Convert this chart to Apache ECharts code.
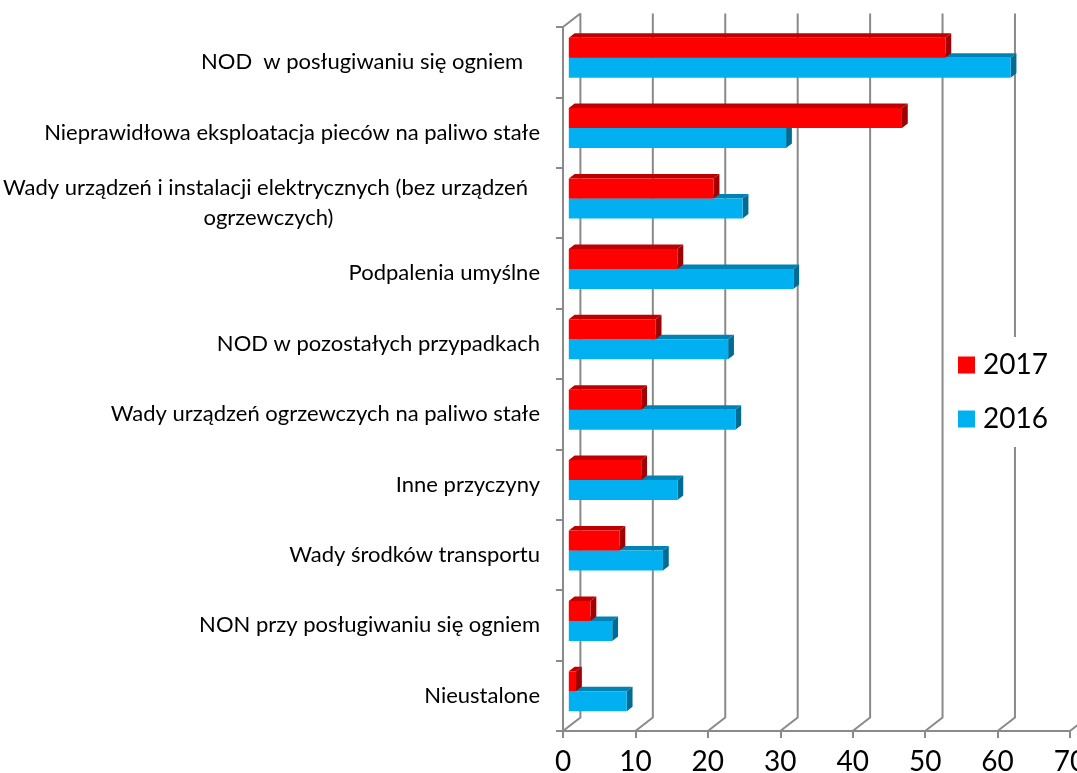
<!DOCTYPE html>
<html>
<head>
<meta charset="UTF-8">
<title>Przyczyny pożarów 2016 - 2017</title>
<script src="https://cdn.jsdelivr.net/npm/echarts@6/dist/echarts.min.js"></script>
<style>
    html, body { margin: 0; padding: 0; background: #fff; }
    #main { width: 1077px; height: 773px; }
</style>
</head>
<body>
<div id="main"></div>
<script>
    // kategorie (od góry)
    var categories = [
        'NOD  w posługiwaniu się ogniem   ',
        'Nieprawidłowa eksploatacja pieców na paliwo stałe',
        'Wady urządzeń i instalacji elektrycznych (bez urządzeń\nogrzewczych)',
        'Podpalenia umyślne',
        'NOD w pozostałych przypadkach',
        'Wady urządzeń ogrzewczych na paliwo stałe',
        'Inne przyczyny',
        'Wady środków transportu',
        'NON przy posługiwaniu się ogniem',
        'Nieustalone'
    ];
    var values2017 = [52, 46, 20, 15, 12, 10, 10, 7, 3, 1];
    var values2016 = [61, 30, 24, 31, 22, 23, 15, 13, 6, 8];
    var xTicks = [0, 10, 20, 30, 40, 50, 60, 70];

    // głębokość "3D" w pikselach
    var DEPTH_X = 17.4, DEPTH_Y = -13.5;
    var BAR_RATIO = 20 / 70.4;
    var GRAY = '#8a8a8a';
    var FONT = 'Lato';

    function bar3d(side, front, top, right) {
        return function (params, api) {
            var val = api.value(0), cat = api.value(1);
            var a = api.coord([0, cat]), b = api.coord([val, cat]);
            var h = api.size([0, 1])[1] * BAR_RATIO;
            var y0 = side < 0 ? a[1] - h : a[1];
            var y1 = y0 + h;
            var fx = DEPTH_X / 3, fy = DEPTH_Y / 3;
            var bx = DEPTH_X * 2 / 3, by = DEPTH_Y * 2 / 3;
            var x0 = a[0], x1 = b[0];
            return {
                type: 'group',
                children: [
                    {type: 'polygon', shape: {points: [[x0 + fx, y0 + fy], [x1 + fx, y0 + fy], [x1 + bx, y0 + by], [x0 + bx, y0 + by]]}, style: {fill: top}},
                    {type: 'polygon', shape: {points: [[x1 + fx, y0 + fy], [x1 + bx, y0 + by], [x1 + bx, y1 + by], [x1 + fx, y1 + fy]]}, style: {fill: right}},
                    {type: 'rect', shape: {x: x0 + fx, y: y0 + fy, width: x1 - x0, height: h}, style: {fill: front}}
                ]
            };
        };
    }

    // linie siatki na tylnej ścianie + podłoga
    function frameItem(params, api) {
        var cs = params.coordSys;
        var v = api.value(0);
        var x = api.coord([v, 0])[0];
        var bottom = cs.y + cs.height, top = cs.y;
        var children = [{
            type: 'polyline',
            shape: {points: [[x, bottom], [x + DEPTH_X, bottom + DEPTH_Y], [x + DEPTH_X, top + DEPTH_Y]]},
            style: {stroke: GRAY, lineWidth: 2, fill: null}
        }];
        if (v === 0) {
            children.push({
                type: 'line',
                shape: {x1: x, y1: top, x2: x + DEPTH_X, y2: top + DEPTH_Y},
                style: {stroke: GRAY, lineWidth: 2}
            });
        }
        return {type: 'group', children: children};
    }

    var myChart = echarts.init(document.getElementById('main'));
    myChart.setOption({
        animation: false,
        grid: {left: 563, right: 7, top: 27, bottom: 42, containLabel: false, outerBoundsMode: 'none'},
        legend: {
            orient: 'vertical',
            left: 944,
            top: 337,
            padding: [13, 14, 13, 14],
            itemGap: 24,
            itemWidth: 17,
            itemHeight: 17,
            backgroundColor: '#fff',
            selectedMode: false,
            z: 10,
            textStyle: {fontFamily: FONT, fontSize: 28, color: '#000', lineHeight: 30, padding: [0, 0, 0, 3]},
            data: [
                {name: '2017', icon: 'rect', itemStyle: {color: '#FF0000'}},
                {name: '2016', icon: 'rect', itemStyle: {color: '#00B0F0'}}
            ]
        },
        xAxis: {
            type: 'value',
            min: 0,
            max: 70,
            interval: 10,
            axisLine: {show: true, lineStyle: {color: GRAY, width: 2}},
            axisTick: {show: true, length: 7, lineStyle: {color: GRAY, width: 2}},
            axisLabel: {fontFamily: FONT, fontSize: 28, color: '#000', margin: 17, hideOverlap: false},
            splitLine: {show: false}
        },
        yAxis: {
            type: 'category',
            inverse: true,
            data: categories,
            axisLine: {show: true, lineStyle: {color: GRAY, width: 2}},
            axisTick: {show: true, length: 7, lineStyle: {color: GRAY, width: 2}},
            splitLine: {show: false},
            axisLabel: {
                margin: 23,
                color: '#000',
                fontFamily: FONT,
                fontSize: 22,
                formatter: function (v) {
                    var lines = v.split('\n');
                    if (lines.length > 1) {
                        return '{l1|' + lines[0] + '}\n{l2|' + lines[1] + '}';
                    }
                    return '{c|' + v + '}';
                },
                rich: {
                    c: {fontFamily: FONT, fontSize: 22, color: '#000'},
                    l1: {align: 'center', fontFamily: FONT, fontSize: 22, color: '#000', lineHeight: 30, padding: [0, 12, 0, 0]},
                    l2: {align: 'center', fontFamily: FONT, fontSize: 22, color: '#000', lineHeight: 30, padding: [0, 6, 0, 0]}
                }
            }
        },
        series: [
            {
                name: 'frame',
                type: 'custom',
                clip: false,
                z: 1,
                silent: true,
                encode: {x: 0, y: 1},
                renderItem: frameItem,
                data: xTicks.map(function (v) { return [v, 0]; })
            },
            {
                name: '2016',
                type: 'custom',
                clip: false,
                z: 3,
                itemStyle: {color: '#00B0F0'},
                encode: {x: 0, y: 1},
                renderItem: bar3d(1, '#00B0F0', '#0083B4', '#006C94'),
                data: values2016.map(function (v, i) { return [v, i]; })
            },
            {
                name: '2017',
                type: 'custom',
                clip: false,
                z: 4,
                itemStyle: {color: '#FF0000'},
                encode: {x: 0, y: 1},
                renderItem: bar3d(-1, '#FF0000', '#C00000', '#A00000'),
                data: values2017.map(function (v, i) { return [v, i]; })
            }
        ]
    });
</script>
</body>
</html>
